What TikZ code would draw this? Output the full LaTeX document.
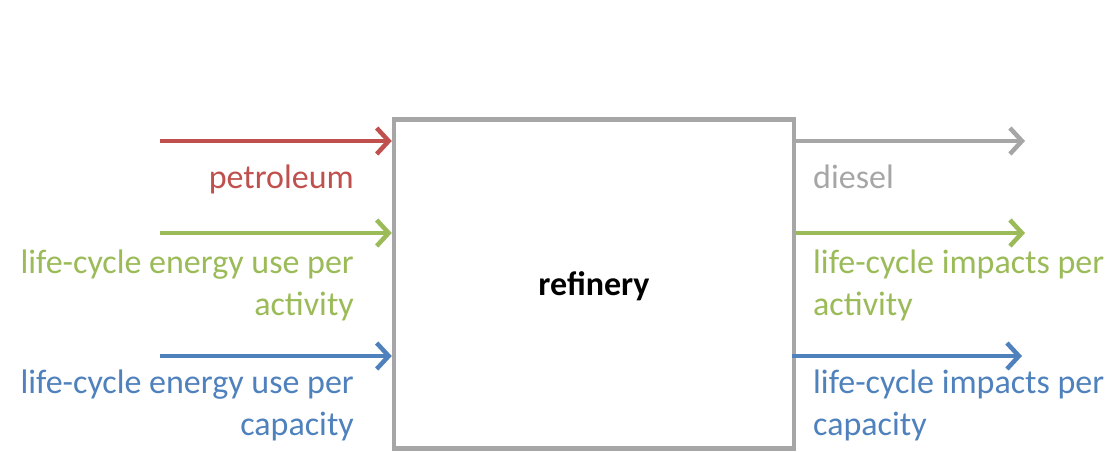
\documentclass[tikz,border=0pt]{standalone}
\usepackage{fontspec}
\setmainfont{Carlito}
\usetikzlibrary{arrows.meta,positioning}
\definecolor{flowred}{HTML}{C0504D}
\definecolor{flowgreen}{HTML}{9BBB59}
\definecolor{flowblue}{HTML}{4F81BD}
\definecolor{flowgray}{HTML}{A6A6A6}
\tikzset{
  flow/.style={-{Straight Barb[length=12pt,width=26pt]}, line width=4.5pt},
  process/.style={draw=flowgray, line width=4.5pt, minimum width=400pt,
    minimum height=329pt, text height=24pt, text depth=2pt,
    font=\fontsize{34}{42}\selectfont\bfseries},
  in label/.style={anchor=base east, align=right, inner sep=0pt},
  out label/.style={anchor=base west, align=left, inner sep=0pt},
}

\begin{document}
\begin{tikzpicture}[x=1pt, y=-1pt, font=\fontsize{34}{42}\selectfont]
  \useasboundingbox (0,0) rectangle (1116,451);

  % Process box
  \node[process] (refinery) at (594,284) {refinery};

  % Inputs
  \coordinate (petroleum in) at (160,141);
  \coordinate (energy act in) at (160,233);
  \coordinate (energy cap in) at (160,356);
  \draw[flow, flowred] (petroleum in) -- (petroleum in -| refinery.west);
  \draw[flow, flowgreen] (energy act in) -- (energy act in -| refinery.west);
  \draw[flow, flowblue] (energy cap in) -- (energy cap in -| refinery.west);

  % Outputs
  \coordinate (diesel out) at (1025,141);
  \coordinate (impacts act out) at (1025,233);
  \coordinate (impacts cap out) at (1022,356);
  \draw[flow, flowgray] (diesel out -| refinery.east) -- (diesel out);
  \draw[flow, flowgreen] (impacts act out -| refinery.east) -- (impacts act out);
  \draw[flow, flowblue] ([xshift=-4pt]impacts cap out -| refinery.east) -- (impacts cap out);

  % Labels (base = last line)
  \node[in label, flowred] (petroleum) at (354,188) {petroleum};
  \node[in label, flowgreen] (energy act) at (354,315) {life-cycle energy use per\\activity};
  \node[in label, flowblue] (energy cap) at (354,435) {life-cycle energy use per\\capacity};
  \node[out label, flowgray] (diesel) at (813,188) {diesel};
  \node[out label, flowgreen] (impacts act) at (813,315) {life-cycle impacts per\\activity};
  \node[out label, flowblue] (impacts cap) at (813,435) {life-cycle impacts per\\capacity};
\end{tikzpicture}
\end{document}
